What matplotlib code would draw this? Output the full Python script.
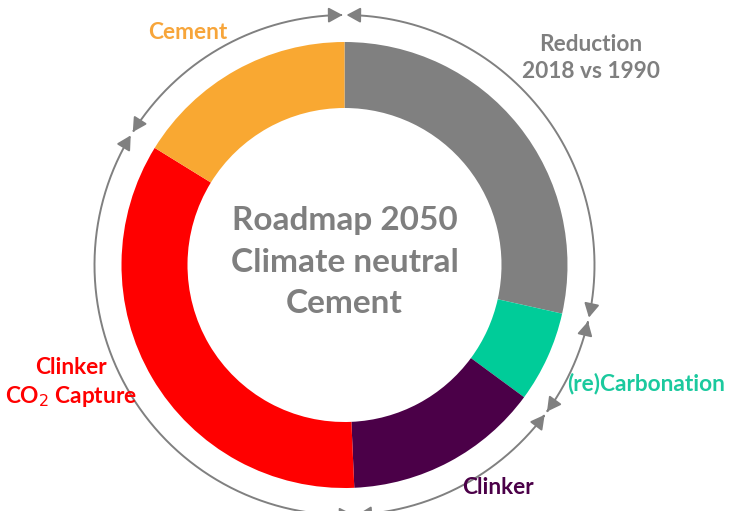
import numpy as np
import matplotlib
matplotlib.use("Agg")
import matplotlib.pyplot as plt
from matplotlib.patches import FancyArrowPatch
from matplotlib.path import Path

# ---- data ----
categories = ["Reduction\n2018 vs 1990", "(re)Carbonation", "Clinker", "Clinker\nCO$_2$ Capture", "Cement"]
shares = [28.5, 6.6, 14.2, 34.5, 16.2]
seg_colors = ["#808080", "#00CC99", "#4B0048", "#FF0000", "#F9A832"]
label_colors = ["#7F7F7F", "#1BC99E", "#4B0048", "#FF0000", "#F7A53A"]
center_title = "Roadmap 2050\nClimate neutral\nCement"

W, H = 729, 511
fig = plt.figure(figsize=(W / 100, H / 100), dpi=100)
ax = fig.add_axes([0, 0, 1, 1])

cx, cy = 344.5, H - 265
R_out, ring_w = 223, 66

ax.pie(shares, colors=seg_colors, startangle=90, counterclock=False,
       radius=R_out, center=(cx, cy), frame=True,
       wedgeprops=dict(width=ring_w, linewidth=0))
ax.set_xlim(0, W)
ax.set_ylim(0, H)
ax.set_aspect("equal")
ax.axis("off")

# outer circle of double-headed arcs, one per segment
R_arc = 250
gap = 0.45
bounds = np.concatenate([[0], np.cumsum(shares)]) / sum(shares) * 360
for a, b in zip(bounds[:-1], bounds[1:]):
    th = np.radians(np.linspace(a + gap, b - gap, 200))
    verts = np.column_stack([cx + R_arc * np.sin(th), cy + R_arc * np.cos(th)])
    arr = FancyArrowPatch(path=Path(verts),
                          arrowstyle="<|-|>,head_length=0.7,head_width=0.38",
                          mutation_scale=12, color="#808080", lw=1.4)
    ax.add_patch(arr)

font = "Lato"
ax.text(cx, H - 262, center_title, ha="center", va="center", fontsize=24,
        fontweight="bold", color="#7F7F7F", family=font, linespacing=1.52)

label_pos = [(591, H - 58, "center"), (567, H - 383, "left"), (498, H - 488, "center"),
             (71, H - 383, "center"), (188, H - 32, "center")]
for txt, col, (x, y, ha) in zip(categories, label_colors, label_pos):
    ax.text(x, y, txt, ha=ha, va="center", fontsize=16.3, fontweight="bold",
            color=col, family=font, linespacing=1.35)

fig.savefig("out.png", dpi=100)
